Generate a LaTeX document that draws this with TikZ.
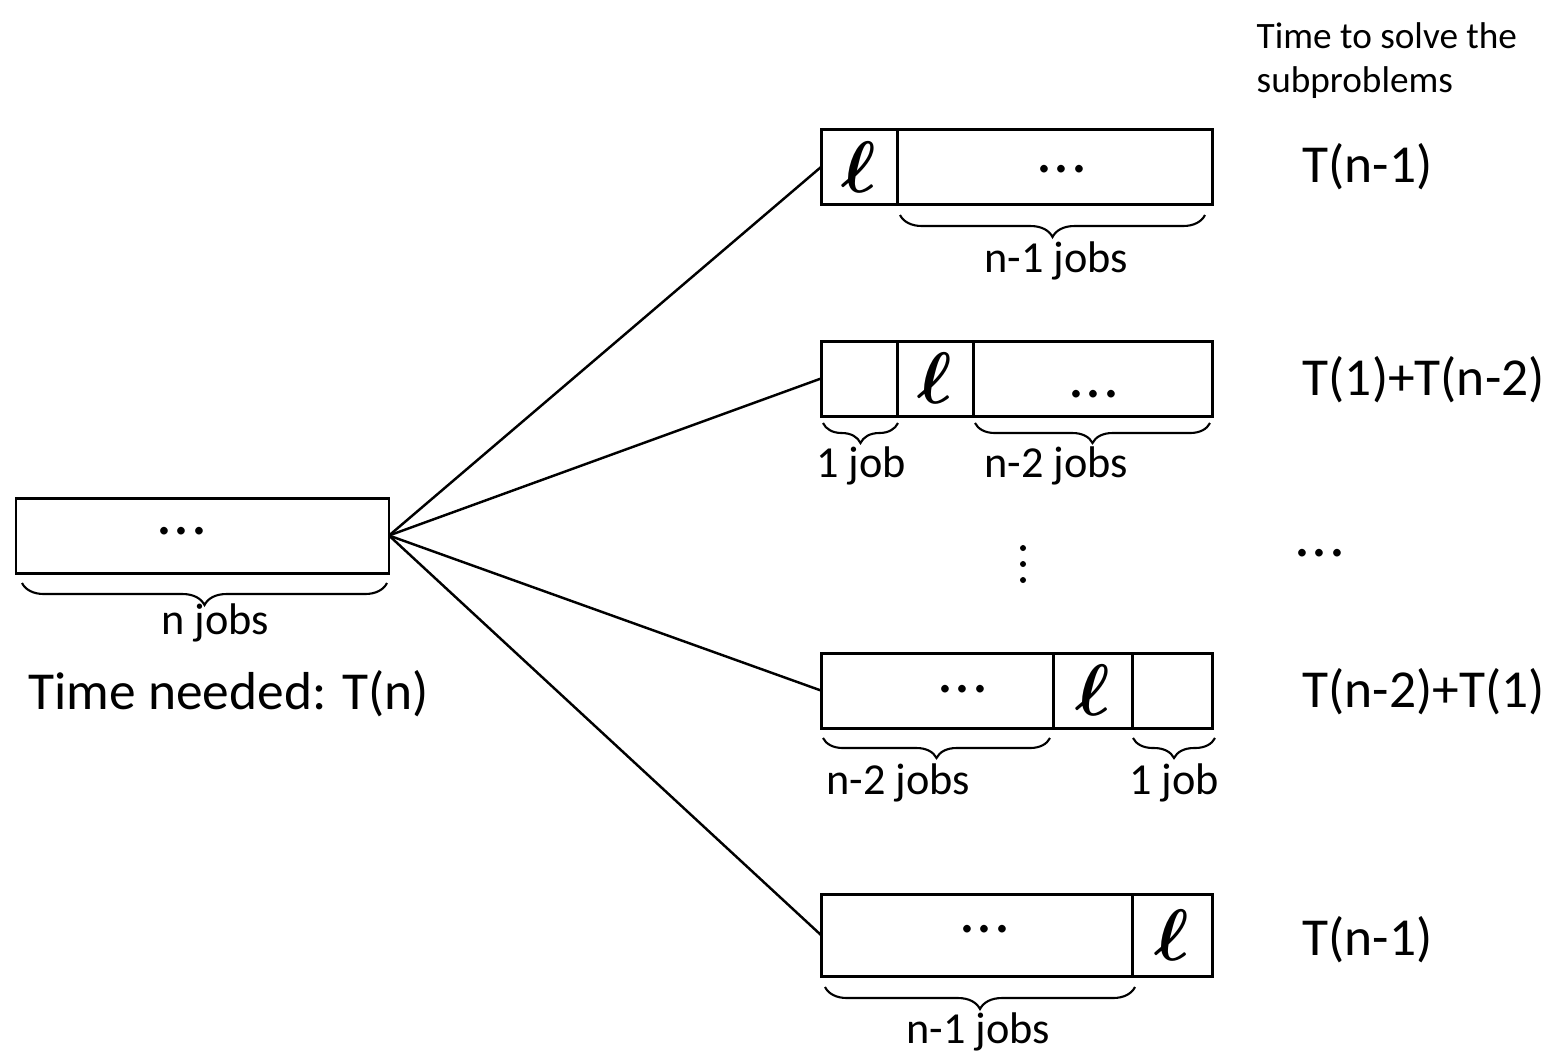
\documentclass[tikz,border=0pt]{standalone}
\usepackage{amsmath}
\usepackage{fontspec}
\setmainfont{Carlito}
\usepackage{xcolor}
\usepackage{tikz}
\usetikzlibrary{positioning,decorations.pathreplacing}
\definecolor{figline}{RGB}{0,0,0}
\tikzset{
  cell/.style ={draw=figline, line width=0.85pt, inner sep=0pt, outer sep=0pt, minimum height=0.75cm},
  lnk/.style  ={draw=figline, line width=0.7pt},
  brc/.style  ={draw=figline, line width=0.6pt, decorate, decoration={brace,mirror,amplitude=0.22cm}},
  big/.style  ={font=\fontsize{15.2}{18}\selectfont, inner sep=0pt},
  dts/.style  ={font=\fontsize{18}{20}\selectfont, inner sep=0pt},
  lab/.style  ={font=\fontsize{12.6}{15}\selectfont, inner sep=0pt},
  hdr/.style  ={font=\fontsize{10.6}{12.5}\selectfont, inner sep=0pt, align=left},
  ell/.style  ={font=\fontsize{20}{22}\selectfont},
}
\newcommand{\elltxt}{$\boldsymbol{\ell}$}
\newcommand{\threedots}{.\kern0.5pt.\kern0.5pt.}

\begin{document}
\begin{tikzpicture}[scale=1]
  \useasboundingbox (0,0) rectangle (15.64,-10.55);
  % the whole problem
  \node[cell, minimum width=3.73cm] (root) at (2.025,-5.355) {};
  \node[dts,anchor=base] (rootdots) at (1.82,-5.34) {\threedots};
  \draw[brc] (0.22,-5.83) -- (3.87,-5.83);
  \node[lab,anchor=base] (rootlab) at (2.15,-6.34) {n jobs};
  \node[big,anchor=base west] (tneed) at (0.28,-7.09) {Time needed: T(n)};
  % header
  \node[hdr,anchor=north west] (hdr) at (12.56,-0.22) {Time to solve the\\subproblems};
  % l first
  \node[cell,ell,minimum width=0.76cm,anchor=west] (a1) at (8.21,-1.67) {\elltxt};
  \node[cell,minimum width=3.15cm,right=0pt of a1] (a2) {};
  \node[dts,anchor=base] (adots) at (10.62,-1.72) {\threedots};
  \draw[brc] (9.00,-2.15) -- (12.05,-2.15);
  \node[lab,anchor=base] (alab) at (10.56,-2.72) {n-1 jobs};
  \node[big,anchor=west] (atime) at (13.02,-1.67) {T(n-1)};
  % l second
  \node[cell,minimum width=0.76cm,anchor=west] (b1) at (8.21,-3.785) {};
  \node[cell,ell,minimum width=0.76cm,right=0pt of b1] (b2) {\elltxt};
  \node[cell,minimum width=2.39cm,right=0pt of b2] (b3) {};
  \node[dts,anchor=base] (bdots) at (10.94,-3.97) {\threedots};
  \draw[brc,decoration={amplitude=0.2cm}] (8.23,-4.23) -- (8.98,-4.23);
  \draw[brc,decoration={amplitude=0.2cm}] (9.75,-4.23) -- (12.10,-4.23);
  \node[lab,anchor=base] (blab1) at (8.61,-4.77) {1 job};
  \node[lab,anchor=base] (blab2) at (10.56,-4.77) {n-2 jobs};
  \node[big,anchor=west] (btime) at (13.02,-3.80) {T(1)+T(n-2)};
  % dots in between
  \fill[figline] (10.23,-5.48) circle (0.03);
  \fill[figline] (10.23,-5.64) circle (0.03);
  \fill[figline] (10.23,-5.80) circle (0.03);
  \node[dts,anchor=base] (rdots) at (13.20,-5.56) {\threedots};
  % l second to last
  \node[cell,minimum width=2.32cm,anchor=west] (c1) at (8.21,-6.905) {};
  \node[cell,ell,minimum width=0.79cm,right=0pt of c1] (c2) {\elltxt};
  \node[cell,minimum width=0.80cm,right=0pt of c2] (c3) {};
  \node[dts,anchor=base] (cdots) at (9.63,-6.92) {\threedots};
  \draw[brc,decoration={amplitude=0.2cm}] (8.23,-7.38) -- (10.50,-7.38);
  \draw[brc,decoration={amplitude=0.2cm}] (11.33,-7.38) -- (12.15,-7.38);
  \node[lab,anchor=base] (clab1) at (8.98,-7.94) {n-2 jobs};
  \node[lab,anchor=base] (clab2) at (11.74,-7.94) {1 job};
  \node[big,anchor=west] (ctime) at (13.02,-6.92) {T(n-2)+T(1)};
  % l last
  \node[cell,minimum width=3.11cm,minimum height=0.82cm,anchor=west] (d1) at (8.21,-9.35) {};
  \node[cell,ell,minimum width=0.80cm,minimum height=0.82cm,right=0pt of d1] (d2) {\elltxt};
  \node[dts,anchor=base] (ddots) at (9.85,-9.32) {\threedots};
  \draw[brc] (8.25,-9.87) -- (11.35,-9.87);
  \node[lab,anchor=base] (dlab) at (9.78,-10.43) {n-1 jobs};
  \node[big,anchor=west] (dtime) at (13.02,-9.40) {T(n-1)};
  % links
  \draw[lnk] (root.east) -- (a1.west);
  \draw[lnk] (root.east) -- (b1.west);
  \draw[lnk] (root.east) -- (c1.west);
  \draw[lnk] (root.east) -- (d1.west);
\end{tikzpicture}
\end{document}
